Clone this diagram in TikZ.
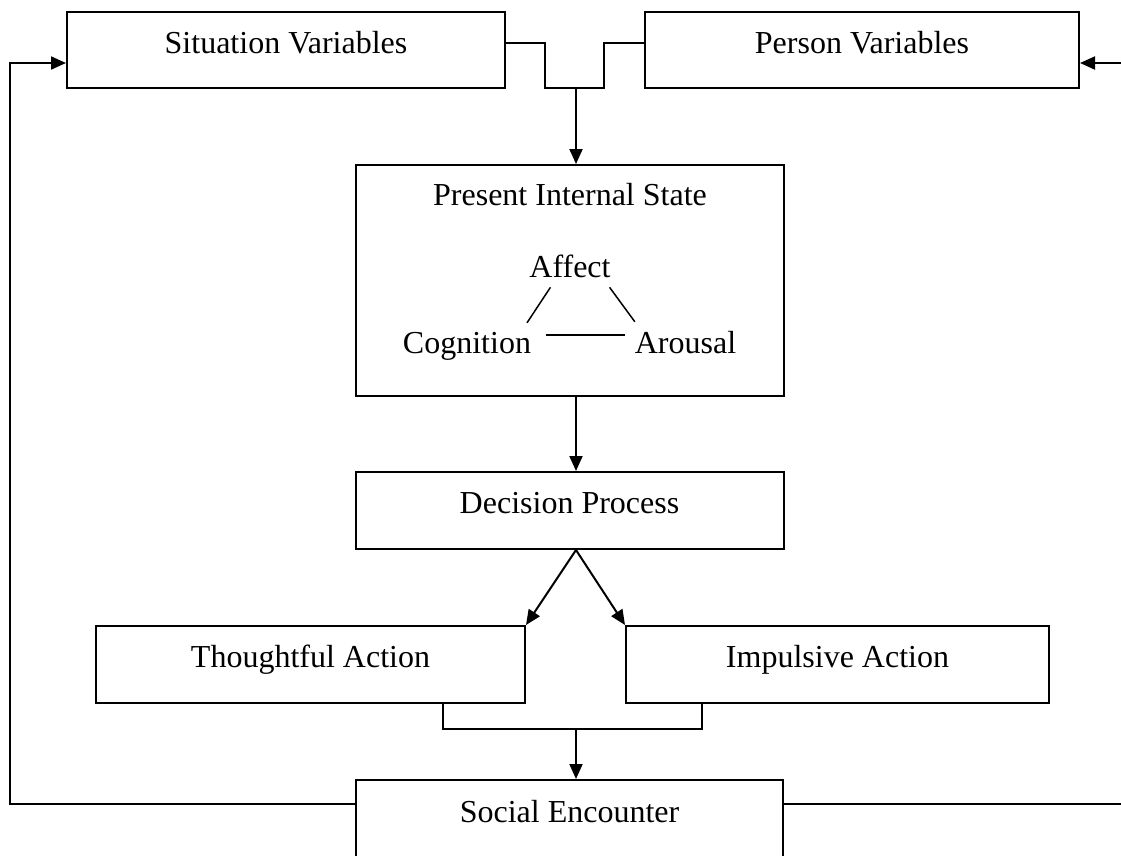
\documentclass[tikz,border=0pt]{standalone}
\usepackage{fontspec}
\setmainfont{Liberation Serif}
\usetikzlibrary{calc, arrows.meta, positioning}

\begin{document}
\begin{tikzpicture}[x=1pt, y=-1pt, >={Triangle[length=15pt,width=13pt]}, line width=2pt,
    font=\fontsize{32}{38}\selectfont,
    box/.style={draw, line width=2pt, inner sep=0pt, text height=22pt, text depth=16pt},
    lbl/.style={inner sep=0pt, anchor=base}]
    \useasboundingbox (0,0) rectangle (1121,855);
    \clip (0,0) rectangle (1121,855);

    % Variables at the top
    \node[box, minimum width=438pt, minimum height=76pt] (sitvar) at (286,50) {Situation Variables};
    \node[box, minimum width=434pt, minimum height=76pt] (persvar) at (862,50) {Person Variables};
    \coordinate (join) at (576,88);
    \draw ($(sitvar.east)+(0,-7)$) -| (545,88) -- (604,88) |- ($(persvar.west)+(0,-7)$);

    % Present internal state
    \node[box, minimum width=428pt, minimum height=231pt] (state) at (570,280.5) {};
    \node[lbl] (title) at (570,205) {Present Internal State};
    \node[lbl] (affect) at (570,277) {Affect};
    \node[lbl] (cognition) at (467,353) {Cognition};
    \node[lbl] (arousal) at (685.5,353) {Arousal};
    \draw[line width=1.5pt] ($(affect.south west)+(22,9)$) -- ($(cognition.north east)+(-5,-8)$);
    \draw[line width=1.5pt] ($(affect.south east)+(-2,9)$) -- ($(arousal.north west)+(1,-8)$);
    \draw[line width=1.5pt] ($(cognition.base east)+(14,-18)$) -- ($(arousal.base west)+(-9,-18)$);
    \draw[->] (join) -- (join |- state.north);

    % Decision and actions
    \node[box, minimum width=428pt, minimum height=77pt] (decision) at (569.5,510.5) {Decision Process};
    \node[box, minimum width=429pt, minimum height=77pt] (thought) at (310.5,664.5) {Thoughtful Action};
    \node[box, minimum width=423pt, minimum height=77pt] (impul) at (837.5,664.5) {Impulsive Action};
    \draw[->] (state.south -| join) -- (decision.north -| join);
    \draw[->] (decision.south -| join) -- (thought.north east);
    \draw[->] (decision.south -| join) -- (impul.north west);

    % Social encounter and feedback loops
    \node[box, minimum width=427pt, minimum height=78pt] (social) at (569.5,819) {Social Encounter};
    \coordinate (merge) at (576,729);
    \draw ($(thought.south)+(132.5,0)$) |- (merge) -| ($(impul.south)+(-135.5,0)$);
    \draw[->] (merge) -- (merge |- social.north);
    \draw[->] ($(social.north west)+(0,25)$) -| (10,63) -- ($(sitvar.west)+(0,13)$);
    \draw[->] ($(social.north east)+(0,25)$) -| (1126,63) -- ($(persvar.east)+(0,13)$);
\end{tikzpicture}
\end{document}
